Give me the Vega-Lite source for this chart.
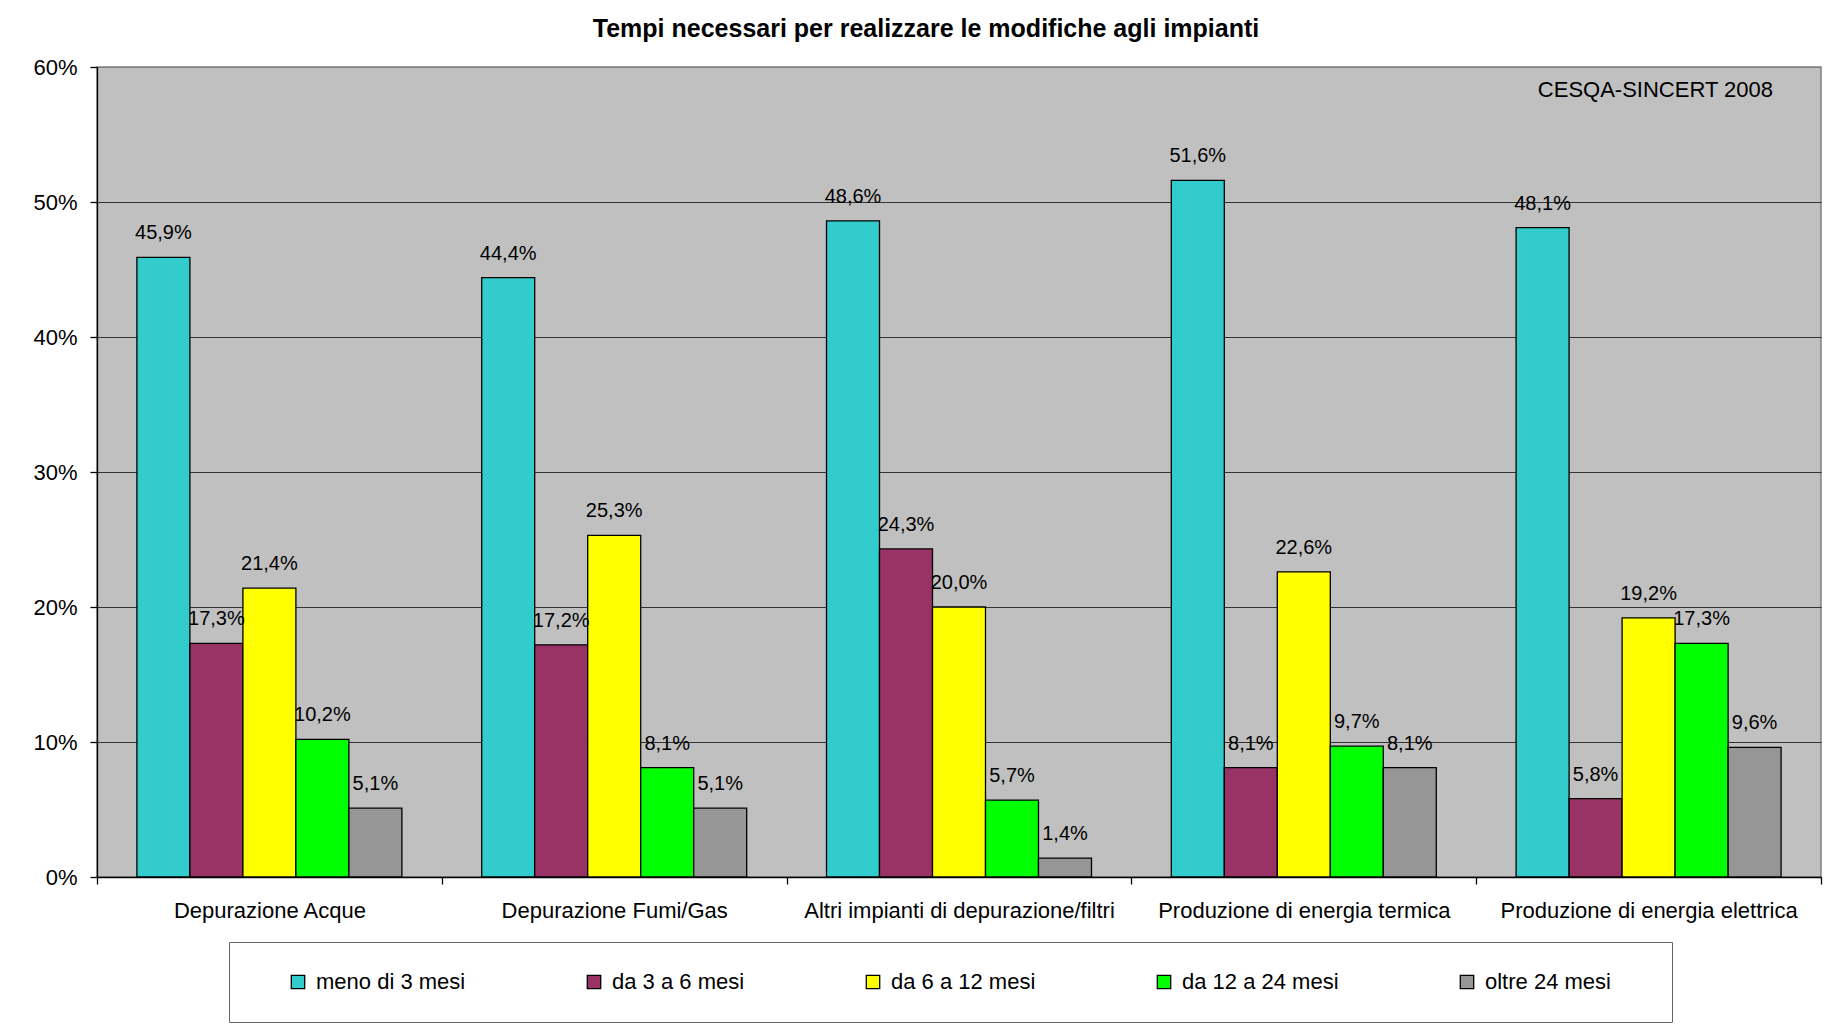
{
  "$schema": "https://vega.github.io/schema/vega-lite/v6.json",
  "width": 1724,
  "height": 810,
  "autosize": {"type": "none"},
  "padding": {"left": 97, "top": 67, "right": 6, "bottom": 152},
  "background": "white",
  "config": {
    "locale": {"number": {"decimal": ",", "thousands": ".", "grouping": [3], "currency": ["€", ""]}},
    "font": "Liberation Sans",
    "view": {"fill": "#C0C0C0", "stroke": "#808080", "strokeWidth": 1.5}
  },
  "title": {
    "text": "Tempi necessari per realizzare le modifiche agli impianti",
    "fontSize": 25,
    "fontWeight": "bold",
    "color": "#000000",
    "anchor": "middle",
    "frame": "group",
    "dx": -33,
    "offset": -6,
    "baseline": "alphabetic"
  },
  "datasets": {
    "bars": [
      {"cat": "Depurazione Acque", "period": "meno di 3 mesi", "value": 0.459},
      {"cat": "Depurazione Acque", "period": "da 3 a 6 mesi", "value": 0.173},
      {"cat": "Depurazione Acque", "period": "da 6 a 12 mesi", "value": 0.214},
      {"cat": "Depurazione Acque", "period": "da 12 a 24 mesi", "value": 0.102},
      {"cat": "Depurazione Acque", "period": "oltre 24 mesi", "value": 0.051},
      {"cat": "Depurazione Fumi/Gas", "period": "meno di 3 mesi", "value": 0.444},
      {"cat": "Depurazione Fumi/Gas", "period": "da 3 a 6 mesi", "value": 0.172},
      {"cat": "Depurazione Fumi/Gas", "period": "da 6 a 12 mesi", "value": 0.253},
      {"cat": "Depurazione Fumi/Gas", "period": "da 12 a 24 mesi", "value": 0.081},
      {"cat": "Depurazione Fumi/Gas", "period": "oltre 24 mesi", "value": 0.051},
      {"cat": "Altri impianti di depurazione/filtri", "period": "meno di 3 mesi", "value": 0.486},
      {"cat": "Altri impianti di depurazione/filtri", "period": "da 3 a 6 mesi", "value": 0.243},
      {"cat": "Altri impianti di depurazione/filtri", "period": "da 6 a 12 mesi", "value": 0.200},
      {"cat": "Altri impianti di depurazione/filtri", "period": "da 12 a 24 mesi", "value": 0.057},
      {"cat": "Altri impianti di depurazione/filtri", "period": "oltre 24 mesi", "value": 0.014},
      {"cat": "Produzione di energia termica", "period": "meno di 3 mesi", "value": 0.516},
      {"cat": "Produzione di energia termica", "period": "da 3 a 6 mesi", "value": 0.081},
      {"cat": "Produzione di energia termica", "period": "da 6 a 12 mesi", "value": 0.226},
      {"cat": "Produzione di energia termica", "period": "da 12 a 24 mesi", "value": 0.097},
      {"cat": "Produzione di energia termica", "period": "oltre 24 mesi", "value": 0.081},
      {"cat": "Produzione di energia elettrica", "period": "meno di 3 mesi", "value": 0.481},
      {"cat": "Produzione di energia elettrica", "period": "da 3 a 6 mesi", "value": 0.058},
      {"cat": "Produzione di energia elettrica", "period": "da 6 a 12 mesi", "value": 0.192},
      {"cat": "Produzione di energia elettrica", "period": "da 12 a 24 mesi", "value": 0.173},
      {"cat": "Produzione di energia elettrica", "period": "oltre 24 mesi", "value": 0.096}
    ],
    "note": [
      {"label": "CESQA-SINCERT 2008", "cat": "Produzione di energia elettrica", "pos": 0.6}
    ]
  },
  "layer": [
    {
      "data": {"name": "bars"},
      "mark": {"type": "bar", "stroke": "#000000", "strokeWidth": 1.3},
      "encoding": {
        "x": {
          "field": "cat",
          "type": "nominal",
          "sort": ["Depurazione Acque", "Depurazione Fumi/Gas", "Altri impianti di depurazione/filtri", "Produzione di energia termica", "Produzione di energia elettrica"],
          "scale": {"paddingInner": 0, "paddingOuter": 0},
          "axis": {
            "title": null,
            "labelFontSize": 22,
            "labelColor": "#000000",
            "labelAngle": 0,
            "labelLimit": 400,
            "labelPadding": 16,
            "domainColor": "#000000",
            "domainWidth": 1.3,
            "tickColor": "#000000",
            "tickWidth": 1.3,
            "tickSize": 7,
            "tickBand": "extent",
            "grid": false
          }
        },
        "xOffset": {
          "field": "period",
          "type": "nominal",
          "sort": ["meno di 3 mesi", "da 3 a 6 mesi", "da 6 a 12 mesi", "da 12 a 24 mesi", "oltre 24 mesi"],
          "scale": {"paddingInner": 0, "paddingOuter": 0.753}
        },
        "y": {
          "field": "value",
          "type": "quantitative",
          "scale": {"domain": [0, 0.6], "nice": false},
          "axis": {
            "title": null,
            "format": ".0%",
            "values": [0, 0.1, 0.2, 0.3, 0.4, 0.5, 0.6],
            "labelFontSize": 22,
            "labelColor": "#000000",
            "labelPadding": 13,
            "tickSize": 7,
            "tickColor": "#000000",
            "tickWidth": 1.3,
            "domainColor": "#000000",
            "domainWidth": 1.3,
            "grid": true,
            "gridColor": {"condition": {"test": "datum.value >= 0.6", "value": "#808080"}, "value": "#333333"},
            "gridWidth": 1.2,
            "gridOpacity": 1
          }
        },
        "color": {
          "field": "period",
          "type": "nominal",
          "sort": ["meno di 3 mesi", "da 3 a 6 mesi", "da 6 a 12 mesi", "da 12 a 24 mesi", "oltre 24 mesi"],
          "scale": {
            "domain": ["meno di 3 mesi", "da 3 a 6 mesi", "da 6 a 12 mesi", "da 12 a 24 mesi", "oltre 24 mesi"],
            "range": ["#33CCCC", "#993366", "#FFFF00", "#00FF00", "#969696"]
          },
          "legend": {
            "title": " ",
            "titleOrient": "left",
            "titleFontSize": 1,
            "titlePadding": 29,
            "orient": "none",
            "legendX": 132,
            "legendY": 875,
            "direction": "horizontal",
            "columns": 5,
            "columnPadding": 117,
            "padding": 29,
            "strokeColor": "#666666",
            "fillColor": "#FFFFFF",
            "symbolType": "square",
            "symbolSize": 180,
            "symbolStrokeColor": "#000000",
            "symbolStrokeWidth": 1.3,
            "symbolOpacity": 1,
            "labelFontSize": 22,
            "labelColor": "#000000",
            "labelOffset": 7,
            "labelLimit": 300,
            "labelExpr": "datum.label == 'oltre 24 mesi' ? datum.label + '\u2800\u2800' : datum.label"
          }
        }
      }
    },
    {
      "data": {"name": "bars"},
      "mark": {"type": "text", "baseline": "alphabetic", "dy": -18, "fontSize": 20, "color": "#000000"},
      "encoding": {
        "x": {"field": "cat", "type": "nominal", "sort": ["Depurazione Acque", "Depurazione Fumi/Gas", "Altri impianti di depurazione/filtri", "Produzione di energia termica", "Produzione di energia elettrica"]},
        "xOffset": {"field": "period", "type": "nominal", "sort": ["meno di 3 mesi", "da 3 a 6 mesi", "da 6 a 12 mesi", "da 12 a 24 mesi", "oltre 24 mesi"]},
        "y": {"field": "value", "type": "quantitative"},
        "text": {"field": "value", "type": "quantitative", "format": ".1%"}
      }
    },
    {
      "data": {"name": "note"},
      "mark": {"type": "text", "align": "right", "baseline": "alphabetic", "dx": -48, "dy": 30, "fontSize": 22, "color": "#000000"},
      "encoding": {
        "x": {"field": "cat", "type": "nominal", "bandPosition": 1, "sort": ["Depurazione Acque", "Depurazione Fumi/Gas", "Altri impianti di depurazione/filtri", "Produzione di energia termica", "Produzione di energia elettrica"]},
        "y": {"field": "pos", "type": "quantitative"},
        "text": {"field": "label"}
      }
    }
  ]
}
